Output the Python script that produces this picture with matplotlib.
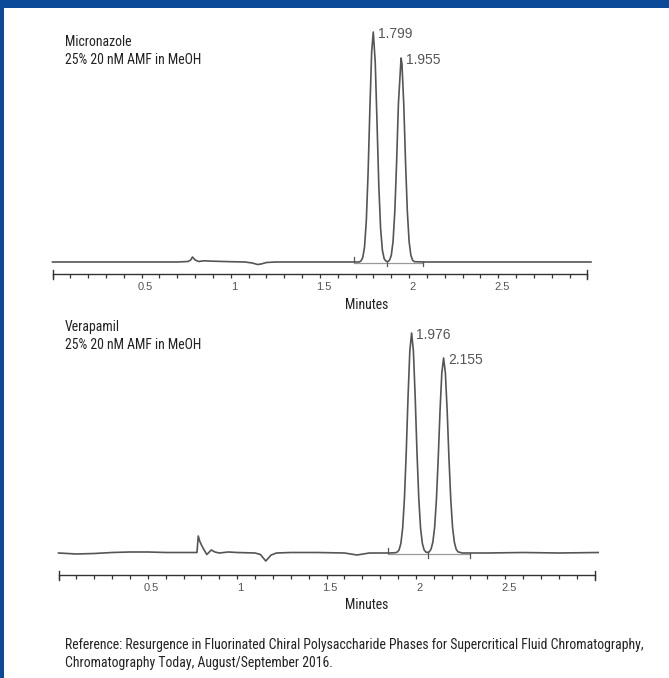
import matplotlib
matplotlib.use("Agg")
import matplotlib.pyplot as plt
import matplotlib.transforms as mtransforms
from matplotlib.patches import Rectangle
from matplotlib import font_manager

# ---------------- data ----------------
# Micronazole trace (minutes, detector response in arbitrary units)
top_t = [0.00, 0.10, 0.20, 0.30, 0.40, 0.50, 0.60, 0.70, 0.76, 0.775, 0.785, 0.80, 0.82,
         0.85, 0.90, 1.00, 1.08, 1.12, 1.15, 1.17, 1.20, 1.25, 1.40, 1.60, 1.72, 1.73,
         1.74, 1.75, 1.76, 1.77, 1.78, 1.79, 1.799, 1.81, 1.82, 1.83, 1.84, 1.85, 1.86,
         1.87, 1.88, 1.89, 1.90, 1.91, 1.92, 1.93, 1.94, 1.955, 1.96, 1.97, 1.98, 1.99,
         2.00, 2.01, 2.02, 2.03, 2.10, 2.30, 2.60, 2.80, 3.02]
top_v = [0.0, 0.0, 0.0, 0.0, 0.0, 0.0, 0.0, 0.0, 0.5, 2.0, 5.0, 2.0, 0.5,
         1.2, 0.8, 0.3, 0.0, -1.0, -2.5, -2.0, -0.5, 0.0, 0.0, 0.0, 0.0, 1.0,
         4.4, 15, 41, 89, 153, 210, 230, 200, 140, 77, 34, 12, 3.4,
         0.9, 0.4, 1.7, 6.6, 20.5, 51, 100, 158, 204, 198, 158, 100, 51,
         20.5, 6.6, 1.7, 0.3, 0.0, 0.0, 0.0, 0.0, 0.0]

# Verapamil trace
bot_t = [0.00, 0.05, 0.10, 0.20, 0.30, 0.40, 0.50, 0.60, 0.70, 0.775, 0.782, 0.79, 0.80,
         0.815, 0.83, 0.855, 0.875, 0.90, 0.95, 1.00, 1.10, 1.13, 1.16, 1.19, 1.22, 1.30,
         1.45, 1.60, 1.67, 1.74, 1.80, 1.85, 1.886,
         1.896, 1.906, 1.916, 1.926, 1.936, 1.946, 1.956, 1.966, 1.976, 1.986, 1.996,
         2.006, 2.016, 2.026, 2.036, 2.046, 2.056, 2.066,
         2.075, 2.085, 2.095, 2.105, 2.115, 2.125, 2.135, 2.145, 2.155, 2.165, 2.175,
         2.185, 2.195, 2.205, 2.215, 2.225, 2.235, 2.26, 2.40, 2.60, 2.80, 3.02]
bot_v = [0.0, -0.5, -1.0, -0.5, 0.5, 1.0, 1.0, 0.5, 0.5, 0.5, 17, 12, 8,
         3.0, -1.5, 3.0, 1.0, 0.0, 1.0, 0.5, 0.0, -1.5, -8.0, -2.0, 0.0, 0.5,
         0.5, 0.0, -2.0, 0.0, 0.0, 0.0, 0.3,
         1.0, 3.1, 9.7, 25, 55, 101, 156, 202, 220, 202, 156,
         101, 55, 25, 9.7, 3.1, 0.9, 0.6,
         1.2, 4.0, 11, 26, 54, 95, 142, 180, 195, 180, 142,
         95, 54, 26, 11, 4.0, 1.2, 0.0, 0.0, 0.5, 0.0, 0.5]

top_peaks = [1.799, 1.955]
top_heights = [230, 204]
bot_peaks = [1.976, 2.155]
bot_heights = [220, 195]

# integration event marks: (time, y_from, y_to)
top_marks = [(1.69, 0, 5), (1.875, 0.5, -4), (2.08, 0, -4)]
bot_marks = [(1.845, 0, 5), (2.066, 0.6, -5), (2.30, 0, -5)]
top_intbase = [1.69, 2.08]
bot_intbase = [1.845, 2.30]

top_name = ["Micronazole", "25% 20 nM AMF in MeOH"]
bot_name = ["Verapamil", "25% 20 nM AMF in MeOH"]
major_ticks = [0.5, 1.0, 1.5, 2.0, 2.5]
major_labels = ["0.5", "1", "1.5", "2", "2.5"]
reference = ["Reference: Resurgence in Fluorinated Chiral Polysaccharide Phases for Supercritical Fluid Chromatography,",
             "Chromatography Today, August/September 2016."]

# ---------------- fonts ----------------
_names = {f.name for f in font_manager.fontManager.ttflist}
NARROW_KW = {"family": ["DejaVu Sans"]}
for cand in ["Liberation Sans Narrow", "Roboto Condensed", "Open Sans Condensed",
             "DejaVu Sans Condensed", "Roboto"]:
    if cand in _names:
        NARROW_KW = {"family": [cand, "DejaVu Sans"]}
        break
ARIAL = ["Liberation Sans", "DejaVu Sans"]

# ---------------- figure ----------------
W, H = 669, 678
fig = plt.figure(figsize=(W / 100, H / 100), dpi=100)
fig.patch.set_facecolor("white")
BLUE = "#0b4a99"
renderer = fig.canvas.get_renderer()

fig.patches.append(Rectangle((0, 1 - 8 / H), 1, 8 / H, transform=fig.transFigure,
                             facecolor=BLUE, edgecolor="none"))
fig.patches.append(Rectangle((0, 0), 4 / W, 1, transform=fig.transFigure,
                             facecolor=BLUE, edgecolor="none"))

# one common size for the narrow texts, fitted so the reference line is ~580 px wide
_probe = fig.text(0, 0, reference[0], fontsize=10, **NARROW_KW)
TXT_SIZE = min(10 * 580 / _probe.get_window_extent(renderer).width, 11.0)
_probe.remove()


def ntext(x_px, y_px, s, ha="left", color="#222222"):
    return fig.text(x_px / W, 1 - y_px / H, s, fontsize=TXT_SIZE, ha=ha, va="center",
                    color=color, **NARROW_KW)


def px_axes(left, top, right, bottom):
    return fig.add_axes([left / W, 1 - bottom / H, (right - left) / W, (bottom - top) / H])


def make_panel(ax, t, v, peaks, heights, marks, intbase, ylim, outward_px, names, name_xy):
    ax.set_xlim(0, 3)
    ax.set_ylim(*ylim)
    ax.patch.set_alpha(0)
    for s in ["top", "left", "right"]:
        ax.spines[s].set_visible(False)
    ax.spines["bottom"].set_position(("outward", outward_px * 0.72))
    ax.spines["bottom"].set_bounds(0, 3)
    ax.spines["bottom"].set_color("#333333")
    ax.spines["bottom"].set_linewidth(1.0)
    ax.set_yticks([])
    ax.set_xticks(major_ticks)
    ax.set_xticklabels(major_labels, family=ARIAL, fontsize=8, color="#555555")
    ax.set_xticks([i / 10 for i in range(0, 31)], minor=True)
    ax.tick_params(axis="x", which="both", direction="out", length=3, width=0.9,
                   color="#333333", pad=2.5)
    off = mtransforms.ScaledTranslation(3.5 / 100, 0, fig.dpi_scale_trans)
    for lab in ax.get_xticklabels():
        lab.set_transform(lab.get_transform() + off)
    axh = ax.get_position().height * H
    trans = mtransforms.blended_transform_factory(ax.transData, ax.transAxes)
    yb = -outward_px / axh
    for xe in (0, 3):
        ax.plot([xe, xe], [yb + 4 / axh, yb - 5 / axh], transform=trans, color="#333333",
                lw=1.0, clip_on=False)
    ax.plot(intbase, [-0.8, -0.8], color="#9a9a9a", lw=0.9, clip_on=False)
    for (xm, y0, y1) in marks:
        ax.plot([xm, xm], [y0, y1], color="#555555", lw=0.9, clip_on=False)
    ax.plot(t, v, color="#555555", lw=1.2, clip_on=False, solid_joinstyle="round")
    for p, h in zip(peaks, heights):
        ax.annotate(f"{p:.3f}", xy=(p, h), xytext=(3.5, -1.2), textcoords="offset points",
                    ha="left", va="center", fontsize=10, family=ARIAL, color="#555555")
    ntext(name_xy[0], name_xy[1], names[0])
    ntext(name_xy[0], name_xy[1] + 18, names[1])


ax1 = px_axes(52.5, 25, 587.4, 266)
make_panel(ax1, top_t, top_v, top_peaks, top_heights, top_marks, top_intbase,
           (-4, 237), 8, top_name, (65, 42))
ntext(367, 305, "Minutes", ha="center")

ax2 = px_axes(58.5, 323, 594.6, 565)
make_panel(ax2, bot_t, bot_v, bot_peaks, bot_heights, bot_marks, bot_intbase,
           (-12, 230), 10, bot_name, (65, 327))
ntext(367, 605, "Minutes", ha="center")

ntext(65, 645, reference[0])
ntext(65, 663, reference[1])

fig.savefig("out.png", dpi=100, facecolor="white")
